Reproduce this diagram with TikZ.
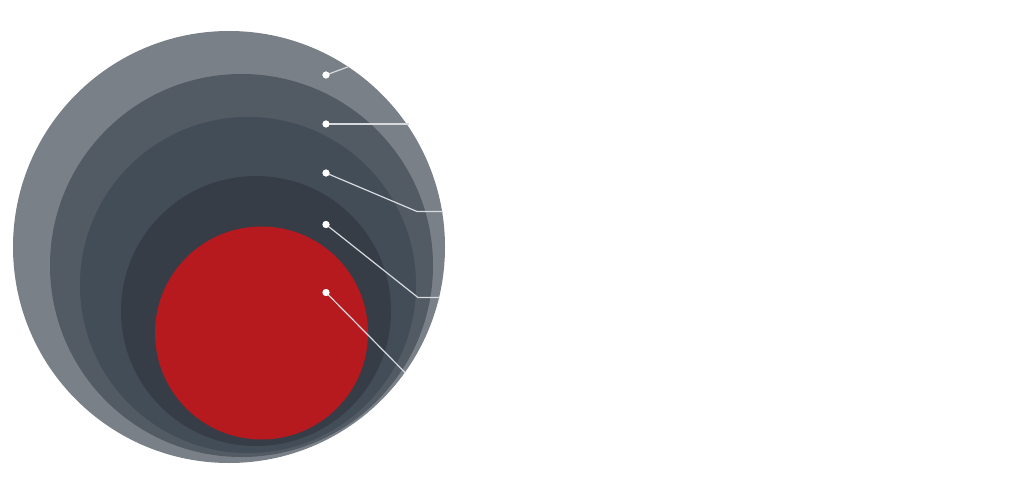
\documentclass[tikz,border=0pt]{standalone}
\definecolor{ring1}{RGB}{122,128,136}
\definecolor{ring2}{RGB}{82,90,100}
\definecolor{ring3}{RGB}{67,77,87}
\definecolor{ring4}{RGB}{54,61,71}
\definecolor{core}{RGB}{182,25,30}
\definecolor{leader}{RGB}{215,218,222}
\tikzset{
  ring/.style={circle, inner sep=0pt, outer sep=0pt, draw=none, minimum size=#1},
  dotnode/.style={circle, fill=white, inner sep=0pt, minimum size=7pt},
  leaderline/.style={draw=leader, line width=1.2pt}
}
\begin{document}
\begin{tikzpicture}[x=1pt,y=-1pt]
\useasboundingbox (0,0) rectangle (1024,489);
\fill[white] (0,0) rectangle (1024,489);
% rings
\node[ring=432pt, fill=ring1] (r1) at (229,247) {};
\node[ring=383pt, fill=ring2] (r2) at (241.5,265.5) {};
\node[ring=336pt, fill=ring3] (r3) at (248,285) {};
\node[ring=270pt, fill=ring4] (r4) at (256,311) {};
\node[ring=213pt, fill=core] (r5) at (261.5,333) {};
% dots
\node[dotnode] (d1) at (326,75) {};
\node[dotnode] (d2) at (326,124) {};
\node[dotnode] (d3) at (326,173) {};
\node[dotnode] (d4) at (326,224.5) {};
\node[dotnode] (d5) at (326,292.5) {};
% leader ends
\coordinate (e1) at (349,66.5);
\coordinate (e2) at (409,124);
\coordinate (k3) at (417,211.5);
\coordinate (e3) at (443,211.5);
\coordinate (k4) at (418,297.5);
\coordinate (e4) at (439.5,297.5);
\coordinate (e5) at (405,372.5);
% leaders
\draw[leaderline] (d1.center) -- (e1);
\draw[leaderline] (d2.center) -- (e2);
\draw[leaderline] (d3.center) -- (k3) -- (e3);
\draw[leaderline] (d4.center) -- (k4) -- (e4);
\draw[leaderline] (d5.center) -- (e5);
\node[dotnode] at (d1) {};
\node[dotnode] at (d2) {};
\node[dotnode] at (d3) {};
\node[dotnode] at (d4) {};
\node[dotnode] at (d5) {};
\end{tikzpicture}
\end{document}
